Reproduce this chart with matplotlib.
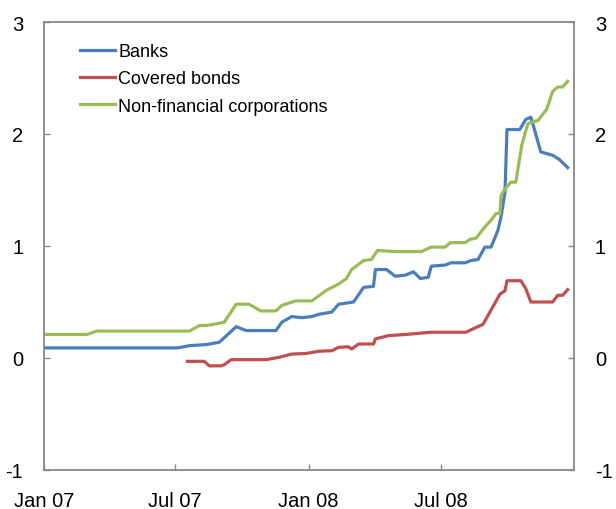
import numpy as np
import pandas as pd
import matplotlib
matplotlib.use('agg')
import matplotlib.pyplot as plt

plt.rcParams['font.family'] = ['Liberation Sans', 'DejaVu Sans']
plt.rcParams['axes.unicode_minus'] = False

# months since Jan 2007, value
banks_m = [0.00, 6.05, 6.59, 7.35, 7.94, 8.71, 9.16, 10.51, 10.78, 11.23, 11.68, 12.14,
           12.45, 13.04, 13.35, 14.03, 14.48, 14.93, 15.02, 15.52, 15.92, 16.38, 16.74,
           17.05, 17.41, 17.55, 18.18, 18.45, 19.08, 19.35, 19.67, 19.98, 20.26, 20.57,
           20.71, 20.89, 20.98, 21.56, 21.83, 22.06, 22.24, 22.51, 23.05, 23.37, 23.73]
banks_v = [0.09, 0.09, 0.11, 0.12, 0.14, 0.28, 0.245, 0.245, 0.32, 0.37, 0.36, 0.37,
           0.39, 0.41, 0.48, 0.50, 0.63, 0.64, 0.79, 0.79, 0.73, 0.74, 0.77,
           0.71, 0.72, 0.82, 0.83, 0.85, 0.85, 0.87, 0.88, 0.99, 0.99, 1.14,
           1.26, 1.48, 2.04, 2.04, 2.13, 2.15, 2.03, 1.84, 1.81, 1.77, 1.70]

covered_m = [6.50, 7.26, 7.49, 8.03, 8.17, 8.48, 10.06, 10.65, 11.23, 11.86, 12.45, 13.04,
             13.35, 13.80, 13.94, 14.26, 14.93, 15.02, 15.61, 16.38, 17.55, 19.13, 19.44,
             19.89, 20.12, 20.66, 20.89, 20.98, 21.61, 21.83, 22.06, 23.05, 23.28, 23.50, 23.73]
covered_v = [-0.03, -0.03, -0.07, -0.07, -0.06, -0.015, -0.015, 0.006, 0.035, 0.04, 0.06, 0.065,
             0.095, 0.10, 0.08, 0.125, 0.125, 0.17, 0.20, 0.21, 0.23, 0.23, 0.26,
             0.30, 0.38, 0.57, 0.60, 0.69, 0.69, 0.62, 0.50, 0.50, 0.56, 0.56, 0.61]

nfc_m = [0.00, 1.94, 2.39, 6.59, 7.04, 7.35, 7.94, 8.17, 8.71, 9.29, 9.83, 10.51, 10.78,
         11.41, 12.14, 12.77, 13.04, 13.35, 13.71, 13.94, 14.48, 14.84, 15.11, 15.92, 17.10,
         17.55, 18.18, 18.41, 19.08, 19.31, 19.58, 19.98, 20.26, 20.48, 20.66, 20.71, 20.89,
         21.16, 21.38, 21.65, 21.92, 22.15, 22.38, 22.78, 23.05, 23.28, 23.50, 23.73]
nfc_v = [0.21, 0.21, 0.24, 0.24, 0.29, 0.29, 0.31, 0.32, 0.48, 0.48, 0.42, 0.42, 0.47,
         0.51, 0.51, 0.60, 0.63, 0.66, 0.71, 0.79, 0.87, 0.88, 0.96, 0.95, 0.95,
         0.99, 0.99, 1.03, 1.03, 1.06, 1.07, 1.17, 1.23, 1.29, 1.29, 1.45, 1.51,
         1.57, 1.57, 1.90, 2.09, 2.11, 2.12, 2.22, 2.38, 2.42, 2.42, 2.47]

labels = ['Banks', 'Covered bonds', 'Non-financial corporations']
colors = ['#4a7ebb', '#c0504d', '#9bbb59']
tick_dates = ['2007-01-01', '2007-07-01', '2008-01-01', '2008-07-01']
tick_labels = ['Jan 07', 'Jul 07', 'Jan 08', 'Jul 08']

start = pd.Timestamp('2007-01-01')
def to_dates(months):
    return start + pd.to_timedelta(np.array(months) * 30.4375, unit='D')

fig = plt.figure(figsize=(6.16, 5.10), dpi=100)
ax = fig.add_axes([0.0714, 0.0765, 0.8604, 0.8784])

for m, v, lab, c in zip([banks_m, covered_m, nfc_m], [banks_v, covered_v, nfc_v], labels, colors):
    ax.plot(to_dates(m), v, color=c, lw=2.3, label=lab, solid_joinstyle='round')

ax.set_ylim(-1, 3)
ax.set_yticks([-1, 0, 1, 2, 3])
ax.set_xlim(pd.Timestamp('2007-01-01'), pd.Timestamp('2009-01-01'))
ax.set_xticks(pd.to_datetime(tick_dates))
ax.set_xticklabels(tick_labels)

for s in ax.spines.values():
    s.set_color('#888888')
    s.set_linewidth(1.3)

ax.tick_params(axis='both', direction='in', length=4, width=1, color='#888888',
               labelsize=14.5)
ax.tick_params(axis='y', pad=15, right=True, labelright=True)
ax.tick_params(axis='x', pad=15)

ax.legend(loc='upper left', bbox_to_anchor=(0.068, 0.953), frameon=False, fontsize=13,
          handlelength=1.95, handletextpad=0.17, labelspacing=0.57, borderpad=0,
          borderaxespad=0)

fig.savefig('out.png', dpi=100)
